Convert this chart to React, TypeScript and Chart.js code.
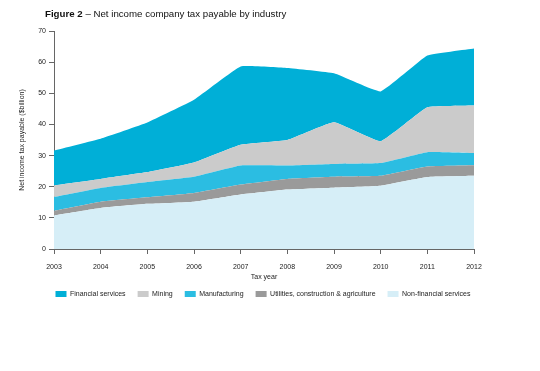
import React, { useEffect, useRef } from "react";
import { Chart, registerables } from "chart.js";

Chart.register(...registerables);

const years = ["2003", "2004", "2005", "2006", "2007", "2008", "2009", "2010", "2011", "2012"];
const nonFinancial = [10.8, 13.2, 14.5, 15.2, 17.5, 19.1, 19.7, 20.3, 23.1, 23.5];
const utilities = [1.5, 2.0, 2.1, 2.8, 3.2, 3.4, 3.5, 3.2, 3.4, 3.4];
const manufacturing = [4.4, 4.4, 4.9, 5.2, 6.1, 4.3, 4.1, 4.1, 4.6, 3.9];
const mining = [3.7, 2.9, 3.2, 4.6, 6.7, 8.2, 13.4, 7.0, 14.4, 15.3];
const financial = [11.2, 12.9, 15.9, 20.1, 25.1, 23.1, 15.7, 16.0, 16.6, 18.3];

const FONT = "'Liberation Sans', Arial, Helvetica, sans-serif";

export default function App() {
  const ref = useRef<HTMLCanvasElement | null>(null);

  useEffect(() => {
    if (!ref.current) return;
    const mk = (label: string, data: number[], color: string, fill: string | boolean) => ({
      label,
      data,
      backgroundColor: color,
      borderColor: color,
      borderWidth: 0,
      pointRadius: 0,
      tension: 0.1,
      fill,
    });
    const chart = new Chart(ref.current, {
      type: "line",
      data: {
        labels: years,
        datasets: [
          mk("Non-financial services", nonFinancial, "#d6eef7", "origin"),
          mk("Utilities, construction & agriculture", utilities, "#9a9a9a", "-1"),
          mk("Manufacturing", manufacturing, "#2bbde2", "-1"),
          mk("Mining", mining, "#cbcbcb", "-1"),
          mk("Financial services", financial, "#00afd7", "-1"),
        ],
      },
      options: {
        responsive: false,
        animation: false,
        layout: { padding: { left: 0, right: 14, top: 31, bottom: 63.5 } },
        plugins: {
          tooltip: { enabled: false },
          legend: {
            position: "bottom",
            reverse: true,
            labels: {
              boxWidth: 11,
              boxHeight: 6,
              padding: 12,
              color: "#222",
              font: { family: FONT, size: 7 },
            },
          },
        },
        scales: {
          x: {
            stacked: true,
            offset: false,
            grid: { display: true, drawOnChartArea: false, drawTicks: true, tickLength: 5, color: "#666" },
            border: { display: true, color: "#666" },
            ticks: { padding: 8.5, color: "#222", font: { family: FONT, size: 7 }, maxRotation: 0, autoSkip: false },
            title: { display: true, text: "Tax year", color: "#222", font: { family: FONT, size: 7 }, padding: { top: 0, bottom: -2.7 } },
            afterFit: (s: any) => { s.height = 29.5; },
          },
          y: {
            stacked: true,
            min: 0,
            max: 70,
            grid: { display: true, drawOnChartArea: false, drawTicks: true, tickLength: 5, color: "#666" },
            border: { display: true, color: "#666" },
            ticks: { stepSize: 10, padding: 3, color: "#222", font: { family: FONT, size: 7 } },
            title: { display: true, text: "Net income tax payable ($billion)", color: "#222", font: { family: FONT, size: 7 }, padding: { top: 18, bottom: 0 } },
            afterFit: (s: any) => { s.width = 54; },
          },
          ySpacer: {
            position: "right",
            display: true,
            grid: { display: false },
            border: { display: false },
            ticks: { display: false },
            afterFit: (s: any) => { s.width = 52; },
          },
        },
      },
    } as any);
    return () => chart.destroy();
  }, []);

  return (
    <div style={{ position: "absolute", left: 0, top: 0, width: 540, height: 371, background: "#fff" }}>
      <div
        style={{
          position: "absolute",
          left: 45,
          top: 9,
          fontFamily: FONT,
          fontSize: 9.7,
          lineHeight: "9.7px",
          color: "#111",
          whiteSpace: "nowrap",
        }}
      >
        <b>Figure 2</b> – Net income company tax payable by industry
      </div>
      <canvas ref={ref} width={540} height={371} style={{ display: "block" }} />
    </div>
  );
}
